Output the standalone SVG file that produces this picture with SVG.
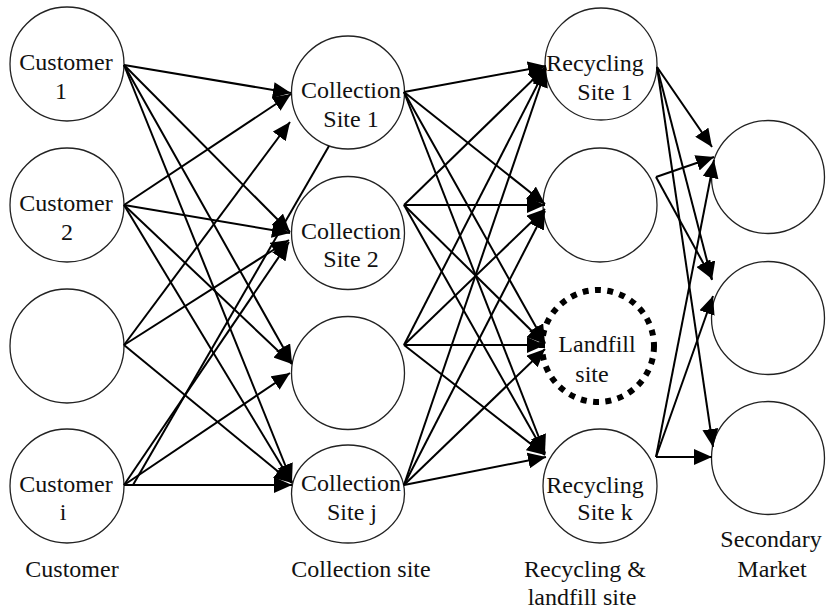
<svg xmlns="http://www.w3.org/2000/svg" width="827" height="610" viewBox="0 0 827 610">
<style>
.n{fill:#fff;stroke:#222;stroke-width:1.3}
.lf{fill:#fff;stroke:#000;stroke-width:6;stroke-dasharray:6 6.4}
.t{font-family:"Liberation Serif","Times New Roman",serif;font-size:24px;fill:#111;text-anchor:middle}
.c line{stroke:#000;stroke-width:2}
.c .a{marker-end:url(#ah)}
</style>
<defs>
<marker id="ah" markerUnits="userSpaceOnUse" markerWidth="19" markerHeight="16" refX="18" refY="8" orient="auto">
<path d="M0,0 L18,8 L0,16 z" fill="#000"/>
</marker>
</defs>
<rect width="827" height="610" fill="#fff"/>

<g id="cust1"><circle class="n" cx="67" cy="64" r="57"/><text class="t" x="66" y="70">Customer</text><text class="t" x="61" y="99">1</text></g>
<g id="cust2"><circle class="n" cx="67" cy="205" r="57"/><text class="t" x="66" y="211">Customer</text><text class="t" x="67" y="240">2</text></g>
<g id="cust3"><circle class="n" cx="67" cy="346" r="57"/></g>
<g id="custi"><circle class="n" cx="67" cy="486" r="57"/><text class="t" x="66" y="492">Customer</text><text class="t" x="63" y="520">i</text></g>

<g id="col1"><circle class="n" cx="348" cy="92.5" r="56.5"/><text class="t" x="351" y="98">Collection</text><text class="t" x="351" y="127">Site 1</text></g>
<g id="col2"><circle class="n" cx="348" cy="233" r="56.5"/><text class="t" x="351" y="239">Collection</text><text class="t" x="351" y="267">Site 2</text></g>
<g id="col3"><circle class="n" cx="348" cy="373" r="56.5"/></g>
<g id="colj"><ellipse class="n" cx="348" cy="494" rx="56.5" ry="49"/><text class="t" x="351" y="491">Collection</text><text class="t" x="352" y="520">Site j</text></g>

<g id="rec1"><circle class="n" cx="601" cy="64" r="56"/><text class="t" x="595" y="71">Recycling</text><text class="t" x="605" y="100">Site 1</text></g>
<g id="rec2"><circle class="n" cx="600" cy="205" r="57"/></g>
<g id="landfill"><circle class="lf" cx="598" cy="346" r="56"/><text class="t" x="597" y="352">Landfill</text><text class="t" x="592" y="382">site</text></g>
<g id="reck"><circle class="n" cx="600" cy="486" r="57"/><text class="t" x="595" y="493">Recycling</text><text class="t" x="605" y="520">Site k</text></g>

<g id="sm1"><circle class="n" cx="768" cy="177" r="56.5"/></g>
<g id="sm2"><circle class="n" cx="768" cy="318" r="56.5"/></g>
<g id="sm3"><circle class="n" cx="768" cy="458" r="56.5"/></g>

<g id="labels">
<text class="t" x="72" y="577">Customer</text>
<text class="t" x="361" y="577">Collection site</text>
<text class="t" x="585" y="577">Recycling &amp;</text>
<text class="t" x="582" y="605">landfill site</text>
<text class="t" x="771" y="547">Secondary</text>
<text class="t" x="772" y="577">Market</text>
</g>

<g id="connectors" class="c">
<!-- customers to collection sites -->
<line class="a" x1="124" y1="65" x2="291" y2="93"/>
<line class="a" x1="124" y1="65" x2="290" y2="232"/>
<line class="a" x1="124" y1="65" x2="292" y2="363"/>
<line class="a" x1="124" y1="65" x2="292" y2="482"/>
<line class="a" x1="124" y1="205" x2="291" y2="94"/>
<line class="a" x1="124" y1="205" x2="290" y2="233"/>
<line class="a" x1="124" y1="205" x2="292" y2="364"/>
<line class="a" x1="124" y1="205" x2="292" y2="483"/>
<line class="a" x1="124" y1="345" x2="290" y2="122"/>
<line class="a" x1="124" y1="345" x2="289" y2="240"/>
<line class="a" x1="124" y1="345" x2="292" y2="483"/>
<line x1="133" y1="485" x2="329" y2="146"/>
<line class="a" x1="124" y1="485" x2="289" y2="242"/>
<line class="a" x1="124" y1="485" x2="290" y2="373"/>
<line class="a" x1="124" y1="485" x2="292" y2="485"/>
<!-- collection sites to recycling / landfill -->
<line class="a" x1="404" y1="92" x2="546" y2="66"/>
<line class="a" x1="404" y1="92" x2="545" y2="204"/>
<line class="a" x1="404" y1="92" x2="545" y2="343"/>
<line class="a" x1="404" y1="92" x2="545" y2="453"/>
<line class="a" x1="404" y1="205" x2="546" y2="67"/>
<line class="a" x1="404" y1="205" x2="545" y2="205"/>
<line class="a" x1="404" y1="205" x2="545" y2="344"/>
<line class="a" x1="404" y1="205" x2="545" y2="454"/>
<line class="a" x1="404" y1="345" x2="546" y2="68"/>
<line class="a" x1="404" y1="345" x2="545" y2="209"/>
<line class="a" x1="404" y1="345" x2="545" y2="345"/>
<line class="a" x1="404" y1="345" x2="545" y2="455"/>
<line class="a" x1="404" y1="485" x2="546" y2="69"/>
<line class="a" x1="404" y1="485" x2="545" y2="211"/>
<line class="a" x1="404" y1="485" x2="545" y2="349"/>
<line class="a" x1="404" y1="485" x2="546" y2="457"/>
<!-- recycling to secondary market -->
<line class="a" x1="657" y1="67" x2="712" y2="147"/>
<line class="a" x1="657" y1="67" x2="712" y2="280"/>
<line class="a" x1="657" y1="67" x2="713" y2="447"/>
<line class="a" x1="656" y1="177" x2="714" y2="157"/>
<line class="a" x1="656" y1="177" x2="712" y2="279"/>
<line class="a" x1="656" y1="457" x2="714" y2="160"/>
<line class="a" x1="656" y1="457" x2="713" y2="296"/>
<line class="a" x1="656" y1="457" x2="712" y2="457"/>
</g>
</svg>
